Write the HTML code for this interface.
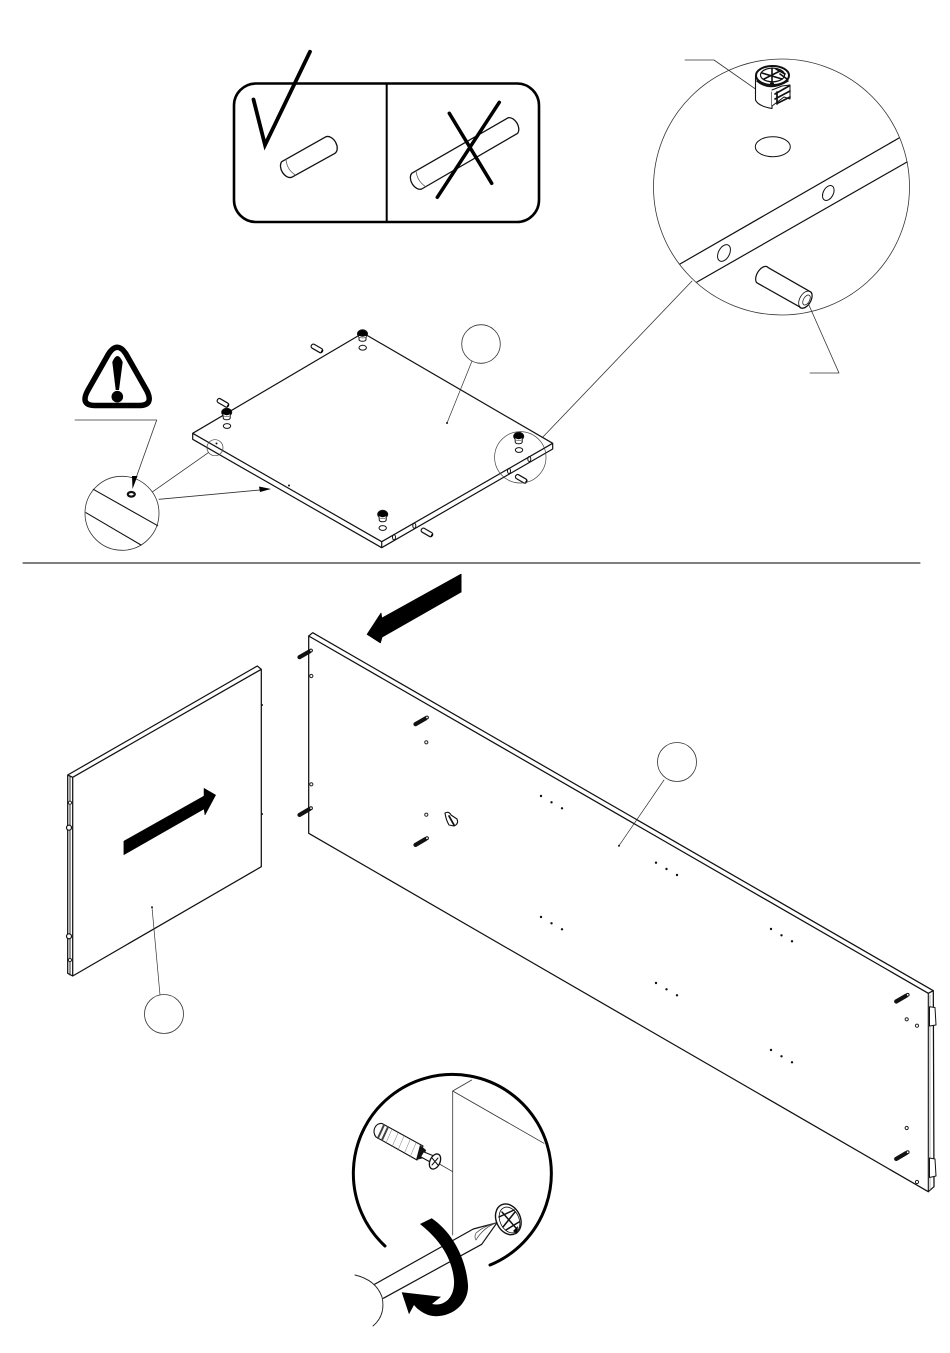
<!DOCTYPE html>
<html><head><meta charset="utf-8"><style>html,body{margin:0;padding:0;background:#fff;width:950px;height:1353px;overflow:hidden}svg{display:block}</style></head>
<body>
<svg xmlns="http://www.w3.org/2000/svg" width="950" height="1353" viewBox="0 0 950 1353">
<defs>
<g id="dp"><line x1="-5.5" y1="3.2" x2="4.500" y2="-2.600" stroke="#111" stroke-width="4.200" stroke-linecap="round"/><circle cx="6" cy="-3.500" r="1.400" fill="#fff" stroke="#111" stroke-width="1"/></g>
<circle id="h" r="1.600" fill="#fff" stroke="#222" stroke-width="1"/>
<g id="sp" transform="rotate(30)"><rect x="-6" y="-2.200" width="12.500" height="4.400" rx="2" fill="#fff" stroke="#111" stroke-width="1.200"/><line x1="6" y1="-1" x2="6" y2="1" stroke="#000" stroke-width="1.500"/></g>
<g id="cam"><path d="M-3.500,-2V3.500A3.500,1.800 0 0 0 3.500,3.500V-2" fill="#fff" stroke="#111" stroke-width="1"/><ellipse cx="0" cy="-2.200" rx="5" ry="4" fill="#000"/><path d="M-3,0.500Q0,2 3,0.500" stroke="#fff" stroke-width="1.100"/></g>
<g id="d3"><circle cx="0" cy="0" r="1.200"/><circle cx="10.500" cy="6.300" r="1.200"/><circle cx="21" cy="12.300" r="1.200"/></g>
</defs>
<rect width="950" height="1353" fill="#fff"/>
<g fill="none" stroke="#111" stroke-linecap="round" stroke-linejoin="round">

<!-- pin box -->
<rect x="234" y="83.500" width="305" height="138.500" rx="22" stroke="#000" stroke-width="2.600"/>
<line x1="386.700" y1="83.500" x2="386.700" y2="222" stroke="#000" stroke-width="2"/>
<path d="M253.500,99.500L265,145L310,51.700" stroke="#000" stroke-width="3.800" stroke-linecap="round" stroke-linejoin="miter"/>
<path d="M281.700,161.700L326,136.700A6.500,9.500 -30 0 1 335,153.300L291.700,177.300A6.500,9.500 -30 0 1 281.700,161.700Z" fill="#fff" stroke-width="1.300"/>
<path d="M286,159.500Q287,170 295.500,175" stroke-width=".8" stroke="#555"/>
<path d="M411.700,173.300L508.300,117.700A6.500,9.500 -30 0 1 517.700,133.300L421.700,189A6.500,9.500 -30 0 1 411.700,173.300Z" fill="#fff" stroke-width="1.300"/>
<path d="M416,170.500Q417,181 425.500,186.500" stroke-width=".8" stroke="#555"/>
<path d="M449.300,113.300L491.700,183.300M499.300,102.300L437.300,197.300" stroke="#000" stroke-width="3.500"/>

<!-- large detail circle -->
<circle cx="781.500" cy="187" r="128" stroke="#333" stroke-width=".8"/>
<path d="M680,264L899,138M697,282L907,162" stroke-width="1.200"/>
<ellipse cx="772.800" cy="146.700" rx="17.500" ry="10" stroke-width="1"/>
<ellipse cx="828.300" cy="193" rx="5" ry="8" transform="rotate(28 828.300 193)" stroke-width="1"/>
<ellipse cx="724" cy="253" rx="5.500" ry="9" transform="rotate(28 724 253)" stroke-width="1"/>
<path d="M768.300,267.700L811.300,292.300A5.500,9.500 30 0 1 799.300,306.700L756.700,282.700A5.500,9.500 30 0 1 768.300,267.700Z" fill="#fff" stroke-width="1.200"/>
<ellipse cx="805.300" cy="299.500" rx="5.500" ry="9.200" transform="rotate(30 805.300 299.500)" stroke-width=".8"/>
<ellipse cx="806.500" cy="300" rx="3" ry="5.500" transform="rotate(30 806.500 300)" stroke-width=".7"/>
<path d="M808,303L839,373H810M685,60H714L764,95" stroke="#333" stroke-width=".8"/>
<path d="M692,281L541,439" stroke="#333" stroke-width=".8"/>

<!-- cam fitting -->
<path d="M755.500,76V100Q758,106 772,108.500V92" fill="#fff" stroke-width="1.100"/>
<path d="M772,90L782,86L790,85V99L784,97L772,106" fill="#fff" stroke-width="1"/>
<path d="M775,94L789,86M775,99L790,91M778,103L790,97M777,104V92" stroke-width="1.700"/>
<ellipse cx="772.500" cy="75.500" rx="16.500" ry="9.500" fill="#fff" stroke-width="2"/>
<ellipse cx="772.500" cy="75" rx="12" ry="6.800" stroke-width="1.200"/>
<path d="M762,73L782,79M764,79L780,71M772,68V82M776,69L785,74M780,74L787,79" stroke-width="1.600"/>
<path d="M757,81Q770,92 788,81" stroke-width="1.500"/>
<circle cx="772" cy="84" r="1.600" fill="#111"/>

<!-- warning -->
<path d="M108.500,354Q117.300,340.500 126,354L147,391Q154,405.500 139,405.500L95,405.500Q80,405.500 87.500,391Z" stroke="#000" stroke-width="5.500" fill="#fff"/>
<path d="M112.300,362Q117.400,350 122.700,362L119,390H115.700Z" fill="#000" stroke="none"/>
<circle cx="117.300" cy="396.700" r="5.800" fill="#000" stroke="none"/>

<!-- panel 1 -->
<path d="M192.700,433.300L363,333L552.700,443.300V449L381.700,547.700L192.700,439.300V433.300L381.700,541.700L552.700,443.300M381.700,541.700V547.700" fill="#fff" stroke-width="1.200"/>
<circle cx="481" cy="344" r="19.300" stroke="#333" stroke-width=".8" fill="#fff"/>
<path d="M472,361L447,423" stroke="#333" stroke-width=".7"/>
<circle cx="447" cy="423" r="1" fill="#111" stroke="none"/>
<circle cx="289" cy="485.500" r="1" fill="#111" stroke="none"/>
<circle cx="216.500" cy="443.500" r="1" fill="#111" stroke="none"/>

<use href="#cam" x="362.500" y="336"/><use href="#cam" x="226.700" y="414.500"/><use href="#cam" x="518.700" y="438.500"/><use href="#cam" x="382.700" y="516.500"/>
<ellipse cx="362.700" cy="347.700" rx="3.700" ry="2.400" stroke-width="1"/>
<ellipse cx="227" cy="426" rx="3.700" ry="2.400" stroke-width="1"/>
<ellipse cx="519" cy="450" rx="3.700" ry="2.400" stroke-width="1"/>
<ellipse cx="382.700" cy="528" rx="3.700" ry="2.400" stroke-width="1"/>
<use href="#sp" x="316.700" y="348.300"/><use href="#sp" x="222.700" y="402.700"/><use href="#sp" x="521" y="478.700"/><use href="#sp" x="426.700" y="532.300"/>
<ellipse cx="529.300" cy="459" rx="1.500" ry="2.500" stroke-width="1"/><ellipse cx="509" cy="471" rx="1.500" ry="2.500" stroke-width="1"/><ellipse cx="414.300" cy="525.700" rx="1.500" ry="2.500" stroke-width="1"/><ellipse cx="394" cy="537.300" rx="1.500" ry="2.500" stroke-width="1"/>
<circle cx="520.300" cy="457.300" r="25.700" stroke="#444" stroke-width=".7"/>
<circle cx="215" cy="447.700" r="8" stroke="#444" stroke-width=".7"/>

<!-- small detail circle -->
<circle cx="122" cy="513.300" r="37" stroke="#333" stroke-width=".8"/>
<path d="M93.300,489.300L157.700,525.700M86,512.700L141,545" stroke-width="1.100"/>
<ellipse cx="131.300" cy="494.300" rx="3.500" ry="2.300" stroke-width="2.200"/>
<path d="M75,420H156.700L136,478" stroke="#333" stroke-width=".8"/>
<path d="M137.500,476L132.500,489L132,476Z" fill="#000" stroke="none"/>
<path d="M152.700,491.700L208.300,452.700M159,499.300L262,489.800" stroke="#333" stroke-width=".8"/>
<path d="M271,489L259,486.500L260,492Z" fill="#000" stroke="none"/>

<!-- divider -->
<line x1="23" y1="563" x2="920" y2="563" stroke="#000" stroke-width="1"/>

<!-- top arrow -->
<path d="M461,574.300V592L382,637L380.300,642.700L367.300,634.300L381,613.300L381.700,618.300Z" fill="#000" stroke="#000" stroke-width="1"/>

<!-- large panel -->
<path d="M308.700,636L312.700,632.700L933.300,990.700L934,1186.700L928.300,1191.700L308.700,833.300V636L928.300,993.300L933.300,990.700" fill="#fff" stroke-width="1.250"/>
<line x1="928.300" y1="993.300" x2="928.300" y2="1191.700" stroke-width="1.100"/>
<line x1="930" y1="995" x2="930" y2="1190" stroke="#888" stroke-width=".7"/>
<path d="M929.500,1006.700L935,1007.500L936,1025L929.500,1026ZM929.500,1158L935,1159L936,1176L929.500,1177.500Z" fill="#fff" stroke-width="1"/>
<g><use href="#dp" x="305" y="654"/><use href="#dp" x="305" y="811.700"/><use href="#dp" x="421" y="721"/><use href="#dp" x="421" y="841.700"/><use href="#dp" x="901.700" y="998.300"/><use href="#dp" x="901.700" y="1155.700"/></g>
<use href="#h" x="311.300" y="676"/><use href="#h" x="311.300" y="784.300"/><use href="#h" x="426.300" y="742.300"/><use href="#h" x="426.300" y="814.700"/><use href="#h" x="906.700" y="1019.300"/><use href="#h" x="917" y="1025.700"/><use href="#h" x="906.700" y="1128"/><use href="#h" x="917" y="1182"/>
<path d="M445,813Q449,811 451,815L457,819Q459,824 454,826L449,825Q446,820 445,813Z" fill="#fff" stroke-width="1.100"/>
<path d="M449,816L454,825" stroke-width="1.800"/>
<g fill="#111" stroke="none"><use href="#d3" x="541" y="796"/><use href="#d3" x="656" y="862.700"/><use href="#d3" x="541" y="917"/><use href="#d3" x="656" y="983"/><use href="#d3" x="771" y="929"/><use href="#d3" x="771" y="1050"/></g>
<circle cx="677" cy="762" r="19.500" stroke="#333" stroke-width=".8" fill="#fff"/>
<path d="M664,780L619,845.700" stroke="#333" stroke-width=".7"/>
<circle cx="619" cy="845.700" r="1" fill="#111" stroke="none"/>

<!-- left panel -->
<path d="M67.700,775L257.300,666L261.300,669.300V866.700L72.700,976L67.700,973.300ZM72.700,777.300L261.300,669.300M72.700,777.300V976M67.700,775L72.700,777.300" fill="#fff" stroke-width="1.250"/>
<line x1="70" y1="776" x2="70" y2="975" stroke="#111" stroke-width=".9"/>
<use href="#h" x="70" y="802.700"/><circle cx="69" cy="827.700" r="2.500" fill="#fff" stroke-width="1.200"/><circle cx="69" cy="936.300" r="2.500" fill="#fff" stroke-width="1.200"/><use href="#h" x="70" y="960"/>
<circle cx="262" cy="705" r="1" fill="#111" stroke="none"/><circle cx="262" cy="814" r="1" fill="#111" stroke="none"/>
<path d="M124,841L204,796V788.300L215.700,795L205,815L204,809L124,854.700Z" fill="#000" stroke="#000" stroke-width=".5"/>
<circle cx="152" cy="907.300" r="1" fill="#111" stroke="none"/>
<path d="M152,907.300L160,995" stroke="#333" stroke-width=".7"/>
<circle cx="164" cy="1014" r="19.500" stroke="#333" stroke-width=".8" fill="#fff"/>

<!-- screwdriver detail -->
<path d="M385,1246A99,99 0 1 1 490,1265" stroke="#000" stroke-width="3"/>
<path d="M471.700,1080L452.700,1091L544,1143.300M452.700,1091V1235" stroke="#333" stroke-width=".8"/>
<line x1="436" y1="1162" x2="452.700" y2="1171.700" stroke="#333" stroke-width=".8"/>
<path d="M382,1123.500L423,1146L417,1160L376,1137A7,8 0 0 1 382,1123.500Z" fill="#fff" stroke-width="1.100"/>
<path d="M392,1129L386,1143M398,1133L392,1147M404,1136L398,1150M410,1140L404,1154M416,1143L410,1157" stroke-width=".5" stroke="#777"/>
<path d="M384,1125L378,1138M388,1127L382,1140" stroke-width="2" stroke="#444"/>
<path d="M420,1145L426,1150L424,1158L416,1160Z" fill="#111" stroke="none"/>
<path d="M424,1152L434,1156L432,1163L421,1157" fill="#fff" stroke-width="1"/>
<ellipse cx="435" cy="1161.500" rx="5" ry="8" transform="rotate(25 435 1161.500)" fill="#fff" stroke-width="1.300"/>
<path d="M432,1158L438,1165M438,1158L432,1165" stroke-width="1"/>
<ellipse cx="508.300" cy="1219.300" rx="12" ry="16" transform="rotate(-25 508.300 1219.300)" fill="#fff" stroke-width="1.400"/>
<ellipse cx="509.500" cy="1220" rx="9.500" ry="13.500" transform="rotate(-25 509.500 1220)" stroke-width=".8"/>
<path d="M502,1212L516,1228M515,1212L503,1227M499,1217L514,1210M506,1230L519,1222" stroke-width="1.500"/>
<path d="M513,1231L518,1226L517,1234Z" fill="#000" stroke="none"/>
<path d="M373.300,1285L473.300,1229L497,1222.700L481.700,1244.300L383.300,1298.300" fill="#fff" stroke-width="1.200"/>
<path d="M476,1240Q483,1228 496,1223Q484,1226 476,1233Q474,1237 476,1240Z" stroke-width=".7" stroke="#444"/>
<path d="M355,1275Q376,1280 382,1297Q386,1315 373,1326" fill="#fff" stroke-width=".9" stroke="#222"/>
<path d="M420,1224L431.700,1218.300C452,1232 466,1258 468,1285C469,1305 450,1318 433,1316C425,1315 418,1310 414,1305L409,1314.300L401.700,1292.300L441,1296.700L432,1304C445,1307 455,1297 454,1280C452,1258 440,1240 420,1224Z" fill="#000" stroke="none"/>
</g>
</svg>
</body></html>
